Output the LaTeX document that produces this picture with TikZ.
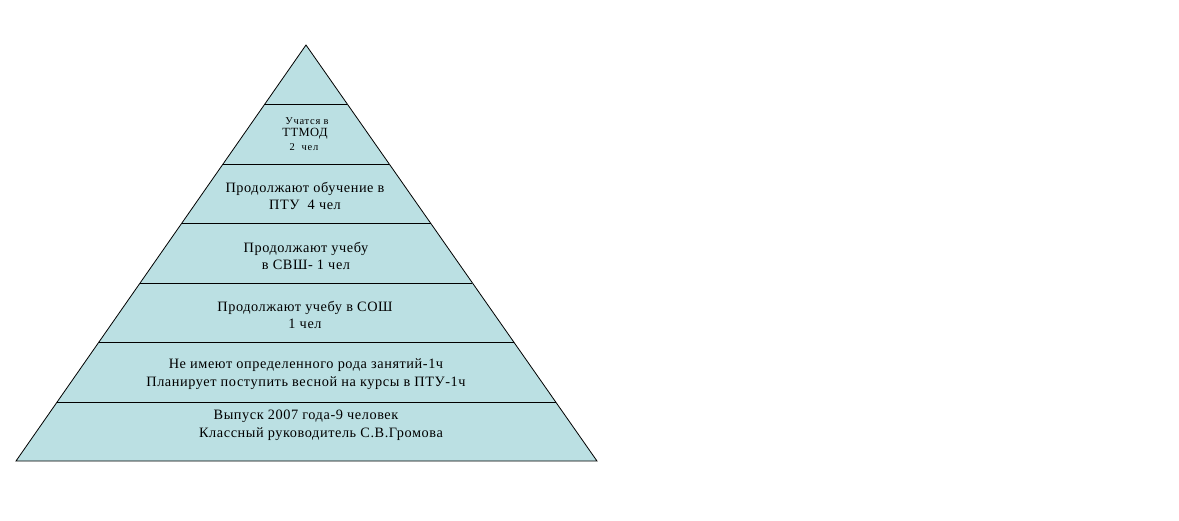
\documentclass[tikz,border=0pt]{standalone}
\usepackage{fontspec}
\setmainfont{Liberation Serif}
\newfontfamily\spacedfont[LetterSpace=4]{Liberation Serif}
\newfontfamily\smallspfont[LetterSpace=7]{Liberation Serif}
\definecolor{pyr}{RGB}{187,224,227}
\begin{document}
\begin{tikzpicture}[x=1pt,y=-1pt,
  lbl/.style={align=center,inner sep=0pt,font=\spacedfont\fontsize{14.3}{17.5}\selectfont},
  small/.style={inner sep=0pt,font=\smallspfont\fontsize{10.5}{11}\selectfont},
  layer/.style={draw=black,line width=0.8pt}]
\useasboundingbox (0,0) rectangle (1179,521);
\coordinate (apex) at (306,45);
\coordinate (bl) at (16,461);
\coordinate (br) at (597,461);
\fill[pyr] (apex) -- (bl) -- (br) -- cycle;
\draw[layer] (apex) -- (bl) -- (br) -- cycle;
\foreach \y in {104,164,223,283,342,402} {
  \draw[layer] ({306-(\y-45)/416*290},\y) -- ({306+(\y-45)/416*291},\y);
}
\node[small] (t1) at (307,121) {Учатся в};
\node[inner sep=0pt,font=\spacedfont\fontsize{12.5}{12}\selectfont] (t2) at (305,134) {ТТМОД};
\node[small] (t3) at (304,147) {2\ \ чел};
\node[lbl] (l2) at (305,196) {Продолжают обучение в\\ПТУ\ \ 4 чел};
\node[lbl] (l3) at (306,256) {Продолжают учебу\\в СВШ- 1 чел};
\node[lbl] (l4) at (305,315) {Продолжают учебу в СОШ\\1 чел};
\node[lbl] (l5) at (306,374) {Не имеют определенного рода занятий-1ч\\Планирует поступить весной на курсы в ПТУ-1ч};
\node[lbl] (l6a) at (306,416) {Выпуск 2007 года-9 человек};
\node[lbl] (l6b) at (321,434) {Классный руководитель С.В.Громова};
\end{tikzpicture}
\end{document}
